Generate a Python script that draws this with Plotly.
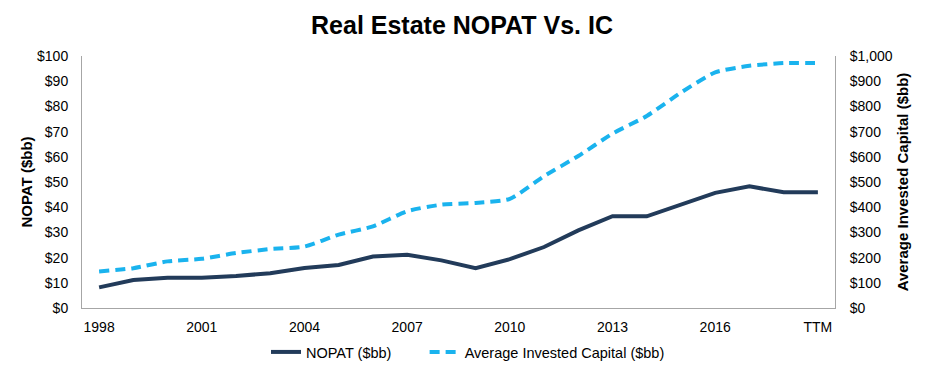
import plotly.graph_objects as go

categories = [str(y) for y in range(1998, 2019)] + ["TTM"]
nopat = [8.2, 11.1, 12.0, 12.0, 12.7, 13.8, 15.9, 17.1, 20.4, 21.1, 18.9, 15.8,
         19.4, 24.2, 30.8, 36.4, 36.4, 41.0, 45.7, 48.3, 45.9, 45.9]
invested_capital = [145, 158, 185, 195, 218, 234, 244, 291, 324, 384, 410, 417,
                    433, 523, 603, 692, 762, 855, 935, 961, 972, 972]
tick_labels = ["1998", "2001", "2004", "2007", "2010", "2013", "2016", "TTM"]

NAVY = "#223B5A"
BLUE = "#1AB3EE"
FONT = "Liberation Sans, Arial, sans-serif"
AXIS = "#A6A6A6"
NOTICK = "rgba(0,0,0,0)"

# The page body adds an 8px offset, so the figure is sized/placed to compensate.
W, H = 922, 367
OFF = 8

fig = go.Figure()
fig.add_trace(go.Scatter(
    x=categories, y=nopat, name="NOPAT ($bb)" + "\u00a0" * 7, mode="lines",
    line=dict(color=NAVY, width=4), yaxis="y"))
fig.add_trace(go.Scatter(
    x=categories, y=invested_capital, name="Average Invested Capital ($bb)", mode="lines",
    line=dict(color=BLUE, width=4, dash="10px,6px", shape="spline", smoothing=0.6), yaxis="y2"))

fig.update_layout(
    width=W, height=H,
    margin=dict(l=82 - OFF, r=W - (835 - OFF), t=56 - OFF, b=H - (308 - OFF)),
    paper_bgcolor="white", plot_bgcolor="white",
    font=dict(family=FONT, size=14, color="#000000"),
    title=dict(text="<b>Real Estate NOPAT Vs. IC</b>", x=(462 - OFF) / W, xanchor="center",
               xref="container", yref="container",
               y=1 - (25 - OFF) / H, yanchor="middle", font=dict(size=25, family=FONT, color="#000000")),
    xaxis=dict(type="category", range=[-0.5, 21.5], tickmode="array",
               tickvals=tick_labels, ticktext=tick_labels, showgrid=False,
               showline=True, linecolor=AXIS, linewidth=1,
               ticks="outside", ticklen=6, tickcolor=NOTICK,
               tickfont=dict(size=14), zeroline=False, automargin=False),
    yaxis=dict(range=[0, 100], dtick=10, tickprefix="$", showgrid=False,
               showline=True, linecolor=AXIS, linewidth=1,
               ticks="outside", ticklen=10, tickcolor=NOTICK,
               title=dict(text="<b>NOPAT ($bb)</b>", font=dict(size=15), standoff=0),
               tickfont=dict(size=14), zeroline=False, automargin=False),
    yaxis2=dict(range=[0, 1000], dtick=100, tickprefix="$", tickformat=",d",
                overlaying="y", side="right", showgrid=False,
                showline=True, linecolor=AXIS, linewidth=1,
                ticks="outside", ticklen=11, tickcolor=NOTICK,
                title=dict(text="<b>Average Invested Capital ($bb)</b>", font=dict(size=15), standoff=5),
                tickfont=dict(size=14), zeroline=False, automargin=False),
    legend=dict(orientation="h", xref="container", yref="container",
                x=(266 - OFF) / W, xanchor="left", y=1 - (352 - OFF) / H, yanchor="middle",
                font=dict(size=14.5), traceorder="normal"),
    showlegend=True,
)

fig.write_html("out.html")
